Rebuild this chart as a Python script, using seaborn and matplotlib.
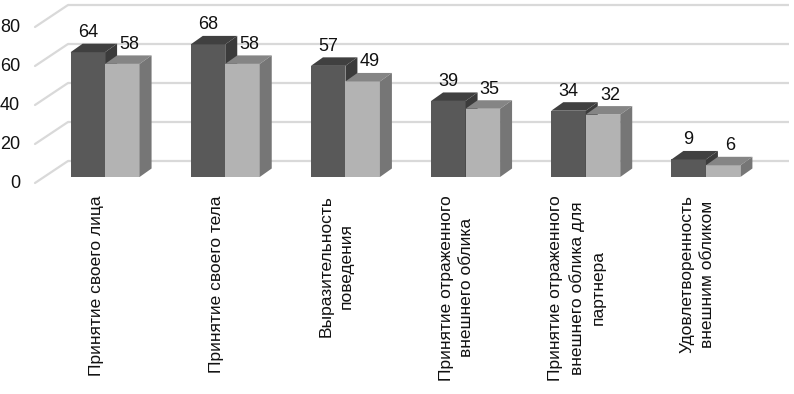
import numpy as np
import pandas as pd
import matplotlib
matplotlib.use('Agg')
import matplotlib.pyplot as plt
import matplotlib.transforms as mtransforms
from matplotlib.patches import Polygon
import seaborn as sns

categories = ['Принятие своего лица',
              'Принятие своего тела',
              'Выразительность\nповедения',
              'Принятие отраженного\nвнешнего облика',
              'Принятие отраженного\nвнешнего облика для\nпартнера',
              'Удовлетворенность\nвнешним обликом']
group1 = [64, 68, 57, 39, 34, 9]
group2 = [58, 58, 49, 35, 32, 6]
series_names = ['Группа 1', 'Группа 2']
yticks = [0, 20, 40, 60, 80]

df = pd.DataFrame({'cat': categories * 2,
                   'val': group1 + group2,
                   'grp': [series_names[0]] * 6 + [series_names[1]] * 6})

sns.set_style('white')
plt.rcParams['font.family'] = ['Liberation Sans', 'DejaVu Sans']

front_c = ['#595959', '#b3b3b3']
top_c = ['#404040', '#858585']
side_c = ['#3b3b3b', '#767676']
grid_c = '#d9d9d9'

fig = plt.figure(figsize=(7.94, 3.94), dpi=100)
ax = fig.add_axes([45/794, 217/394, 721/794, 156/394])

sns.barplot(data=df, x='cat', y='val', hue='grp', palette=front_c, width=0.574,
            gap=0, saturation=1, linewidth=0, errorbar=None, legend=False, ax=ax)
ax.set_xlim(-0.5, 5.5)
ax.set_ylim(0, 80)

# pixel -> data units
px_x = 721 / 6
px_y = 156 / 80
def ox(p):
    return p / px_x
def oy(p):
    return p / px_y

dx, dy = ox(12), oy(8.5)

# back wall gridlines + floor diagonals
for v in yticks:
    ax.plot([-0.5 + ox(23), 5.5 + ox(23)], [v + oy(16), v + oy(16)], color=grid_c,
            lw=1.6, zorder=1, clip_on=False, solid_capstyle='butt')
    ax.plot([-0.5 - ox(10), -0.5 + ox(23)], [v - oy(6), v + oy(16)], color=grid_c,
            lw=1.6, zorder=1, clip_on=False)
    ax.text(-0.5 - ox(25), v - oy(6.5), str(v), ha='right', va='center',
            fontsize=13, color='#111111')

# 3d-ish bars
for i, cont in enumerate(ax.containers):
    for bar in cont:
        x, w, h = bar.get_x(), bar.get_width(), bar.get_height()
        bar.set_zorder(3 + i)
        top = Polygon([(x, h), (x + w, h), (x + w + dx, h + dy), (x + dx, h + dy)],
                      closed=True, fc=top_c[i], ec='none', zorder=3 + i + 0.1, clip_on=False)
        side = Polygon([(x + w, 0), (x + w + dx, dy), (x + w + dx, h + dy), (x + w, h)],
                       closed=True, fc=side_c[i], ec='none', zorder=3 + i + 0.1, clip_on=False)
        ax.add_patch(top)
        ax.add_patch(side)
        ax.text(x + w / 2 + ox(7 * i), h + oy(19.5), f'{h:.0f}', ha='center', va='center',
                fontsize=13, color='#111111', zorder=10)

ax.set_xlabel('')
ax.set_ylabel('')
ax.set_yticks([])
ax.tick_params(axis='x', length=0, pad=13, labelsize=12.5, labelcolor='#111111')
shift = mtransforms.ScaledTranslation(-9/100, 0, fig.dpi_scale_trans)
for lbl in ax.get_xticklabels():
    lbl.set_rotation(90)
    lbl.set_ha('center')
    lbl.set_va('top')
    lbl.set_multialignment('center')
    lbl.set_linespacing(1.45)
    lbl.set_transform(lbl.get_transform() + shift)
sns.despine(ax=ax, left=True, bottom=True)

fig.savefig('out.png', dpi=100)
